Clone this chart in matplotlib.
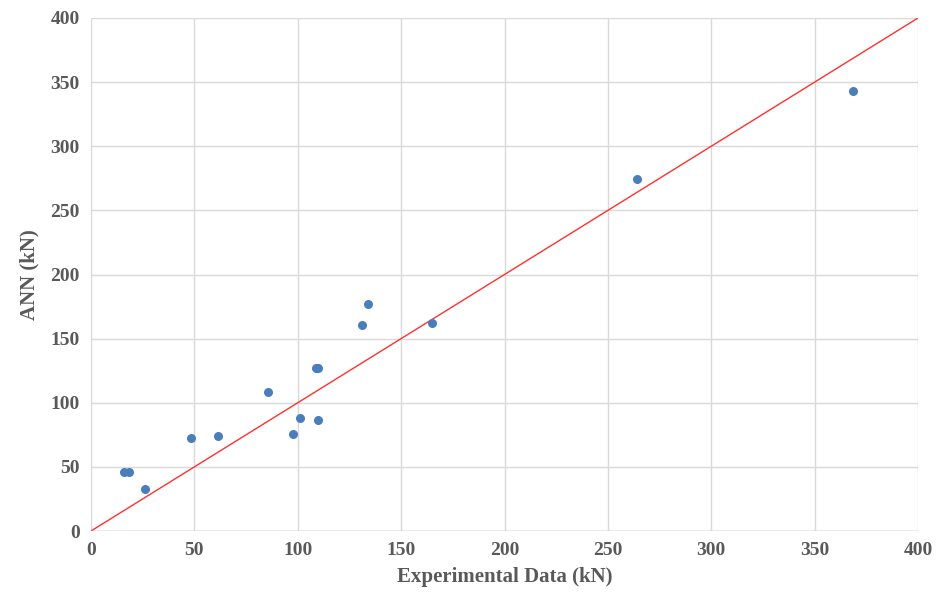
import matplotlib
matplotlib.use("Agg")
import matplotlib.pyplot as plt

exp = [16, 18.4, 26, 48.4, 61.4, 85.6, 97.7, 101, 108.8, 109.8, 109.8, 131, 134, 165, 264, 368.6]
ann = [46, 46, 33, 72.5, 74, 108, 76, 88, 127, 127, 86.5, 161, 177, 162, 274.5, 343]
line_x = [0, 400]

plt.rcParams['font.family'] = ['Liberation Serif']
fig = plt.figure(figsize=(9.38, 6.03), dpi=100)
ax = fig.add_axes([91/938, 72/603, 827/938, 513/603])
ax.plot(line_x, line_x, color='#ff3030', lw=1, zorder=2)
ax.scatter(exp, ann, s=30, color='#4a7ebb', zorder=3)
ax.set_xlim(0, 400); ax.set_ylim(0, 400)
ax.set_xticks(range(0, 401, 50)); ax.set_yticks(range(0, 401, 50))
ax.grid(True, color='#d9d9d9', lw=1)
ax.set_axisbelow(True)
for s in ax.spines.values():
    s.set_visible(False)
ax.axhline(0, color='#bfbfbf', lw=1)
ax.tick_params(length=0, labelsize=14, labelcolor='#595959', pad=8)
for t in ax.get_xticklabels() + ax.get_yticklabels():
    t.set_fontweight('bold')
ax.set_xlabel('Experimental Data (kN)', fontsize=15, fontweight='bold', color='#595959', labelpad=6)
ax.set_ylabel('ANN (kN)', fontsize=15, fontweight='bold', color='#595959', labelpad=8)
fig.savefig('out.png', dpi=100)
